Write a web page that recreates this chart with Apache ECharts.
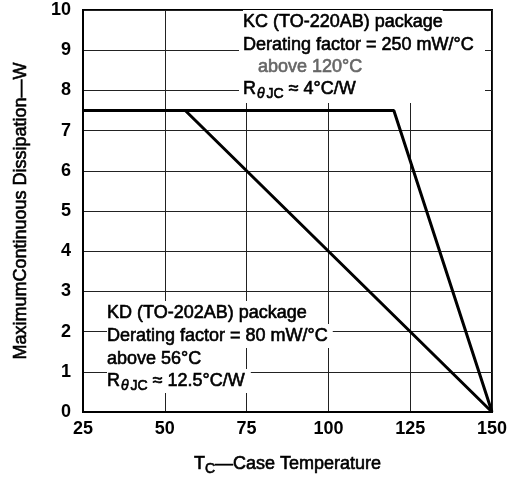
<!DOCTYPE html>
<html>
<head>
<meta charset="utf-8">
<script src="https://cdn.jsdelivr.net/npm/echarts@6/dist/echarts.min.js"></script>
<style>
html,body{margin:0;padding:0;background:#fff;}
#chart{width:514px;height:482px;}
</style>
</head>
<body>
<div id="chart"></div>
<script>
// Data
const xTicks = [25, 50, 75, 100, 125, 150];
const yTicks = [0, 1, 2, 3, 4, 5, 6, 7, 8, 9, 10];
const kcTemp = [25, 120, 150];
const kcPower = [7.5, 7.5, 0];
const kdTemp = [25, 56.25, 150];
const kdPower = [7.5, 7.5, 0];
const kcLabels = ['KC (TO-220AB) package', 'Derating factor = 250 mW/°C', 'above 120°C', '{n|R}{s|θ}{t|JC}{n| ≈ 4°C/W}'];
const kdLabels = ['KD (TO-202AB) package', 'Derating factor = 80 mW/°C', 'above 56°C', '{n|R}{s|θ}{t|JC}{n| ≈ 12.5°C/W}'];

const FONT = "'Liberation Sans', Arial, Helvetica, sans-serif";
const chart = echarts.init(document.getElementById('chart'), null, {renderer: 'canvas'});

// rich styles for graphic text (zrender naming)
function mkRichG(col) {
  const base = {fill: col, stroke: col, lineWidth: 0.6, fontFamily: FONT};
  return {
    n: Object.assign({}, base, {fontSize: 18, lineHeight: 24, verticalAlign: 'middle'}),
    s: Object.assign({}, base, {fontSize: 14, fontStyle: 'italic', verticalAlign: 'bottom', padding: [0, 2, 0, 1]}),
    t: Object.assign({}, base, {fontSize: 14, verticalAlign: 'bottom'})
  };
}
// rich styles for axis name (echarts label naming)
function mkRichE(col) {
  const base = {color: col, textBorderColor: col, textBorderWidth: 0.6, fontFamily: FONT};
  return {
    n: Object.assign({}, base, {fontSize: 18, lineHeight: 24, verticalAlign: 'middle'}),
    t: Object.assign({}, base, {fontSize: 14, verticalAlign: 'bottom'})
  };
}
const richG = mkRichG('#000');
const richGray = mkRichG('#666');
const richE = mkRichE('#000');

function lineText(txt, x, y, padRight, r) {
  const isRich = txt.indexOf('{') === 0;
  return {
    type: 'text', z: 100,
    x: x, y: y,
    style: {
      text: isRich ? txt : '{n|' + txt + '}',
      rich: r || richG,
      backgroundColor: '#fff',
      padding: [0, padRight, 0, 0],
      verticalAlign: 'middle',
      align: 'left'
    }
  };
}

const graphics = [
  {type: 'rect', z: 90, shape: {x: 239, y: 11, width: 246, height: 92}, style: {fill: '#fff'}},
  lineText(kcLabels[0], 243, 22, 0),
  lineText(kcLabels[1], 243, 45, 0),
  lineText(kcLabels[2], 258, 67, 0, richGray),
  lineText(kcLabels[3], 243, 89, 0),
  lineText(kdLabels[0], 107, 313, 20),
  lineText(kdLabels[1], 107, 336, 5),
  lineText(kdLabels[2], 107, 359, 2),
  lineText(kdLabels[3], 107, 381, 6)
];

function pairs(xs, ys) { return xs.map((x, i) => [x, ys[i]]); }

const option = {
  animation: false,
  backgroundColor: '#fff',
  grid: {left: 83, right: 22, top: 10, bottom: 70, show: true, borderColor: '#000', borderWidth: 2},
  xAxis: {
    type: 'value', min: xTicks[0], max: xTicks[xTicks.length - 1], interval: 25,
    name: '{n|T}{t|C}{n|—Case Temperature}',
    nameLocation: 'middle', nameGap: 40,
    nameTextStyle: {rich: richE},
    axisLine: {show: true, lineStyle: {color: '#000', width: 2}},
    axisTick: {show: false},
    axisLabel: {color: '#000', fontSize: 18, fontWeight: 'bold', fontFamily: FONT, margin: 8},
    splitLine: {show: true, lineStyle: {color: '#222', width: 1}}
  },
  yAxis: {
    type: 'value', min: yTicks[0], max: yTicks[yTicks.length - 1], interval: 1,
    name: 'MaximumContinuous Dissipation—W',
    nameLocation: 'middle', nameGap: 53, nameRotate: 90,
    nameTextStyle: {color: '#000', fontSize: 18, fontFamily: FONT, textBorderColor: '#000', textBorderWidth: 0.6},
    axisLine: {show: true, lineStyle: {color: '#000', width: 2}},
    axisTick: {show: false},
    axisLabel: {color: '#000', fontSize: 18, fontWeight: 'bold', fontFamily: FONT, margin: 12},
    splitLine: {show: true, lineStyle: {color: '#222', width: 1}}
  },
  graphic: graphics,
  series: [
    {type: 'line', name: 'KC', data: pairs(kcTemp, kcPower), symbol: 'none', z: 5,
     lineStyle: {color: '#000', width: 3}},
    {type: 'line', name: 'KD', data: pairs(kdTemp, kdPower), symbol: 'none', z: 5,
     lineStyle: {color: '#000', width: 3}}
  ]
};
chart.setOption(option);
</script>
</body>
</html>
